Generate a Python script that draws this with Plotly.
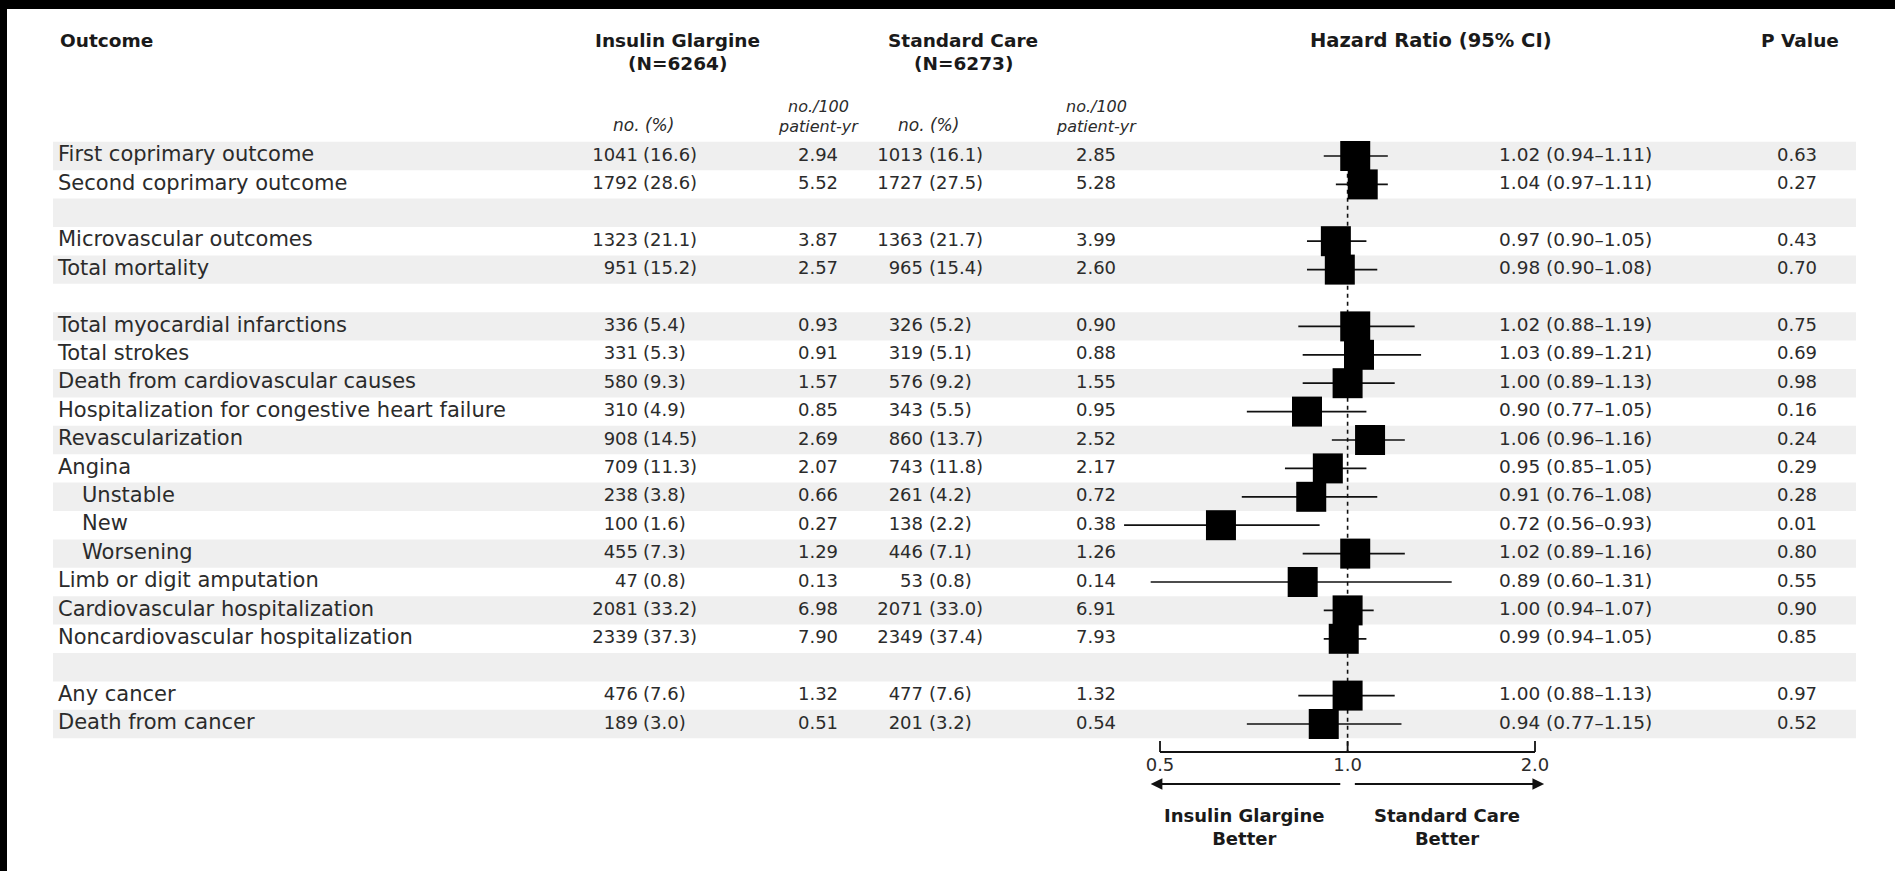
import math
import plotly.graph_objects as go

# ---------------- data ----------------
outcomes = ["First coprimary outcome", "Second coprimary outcome", "",
            "Microvascular outcomes", "Total mortality", "",
            "Total myocardial infarctions", "Total strokes",
            "Death from cardiovascular causes",
            "Hospitalization for congestive heart failure",
            "Revascularization", "Angina", "Unstable", "New", "Worsening",
            "Limb or digit amputation", "Cardiovascular hospitalization",
            "Noncardiovascular hospitalization", "",
            "Any cancer", "Death from cancer"]
indented = [False]*12 + [True, True, True] + [False]*6

ig_n = [1041, 1792, None, 1323, 951, None, 336, 331, 580, 310, 908, 709, 238, 100, 455, 47, 2081, 2339, None, 476, 189]
ig_pct = [16.6, 28.6, None, 21.1, 15.2, None, 5.4, 5.3, 9.3, 4.9, 14.5, 11.3, 3.8, 1.6, 7.3, 0.8, 33.2, 37.3, None, 7.6, 3.0]
ig_rate = [2.94, 5.52, None, 3.87, 2.57, None, 0.93, 0.91, 1.57, 0.85, 2.69, 2.07, 0.66, 0.27, 1.29, 0.13, 6.98, 7.90, None, 1.32, 0.51]
sc_n = [1013, 1727, None, 1363, 965, None, 326, 319, 576, 343, 860, 743, 261, 138, 446, 53, 2071, 2349, None, 477, 201]
sc_pct = [16.1, 27.5, None, 21.7, 15.4, None, 5.2, 5.1, 9.2, 5.5, 13.7, 11.8, 4.2, 2.2, 7.1, 0.8, 33.0, 37.4, None, 7.6, 3.2]
sc_rate = [2.85, 5.28, None, 3.99, 2.60, None, 0.90, 0.88, 1.55, 0.95, 2.52, 2.17, 0.72, 0.38, 1.26, 0.14, 6.91, 7.93, None, 1.32, 0.54]
hr = [1.02, 1.04, None, 0.97, 0.98, None, 1.02, 1.03, 1.00, 0.90, 1.06, 0.95, 0.91, 0.72, 1.02, 0.89, 1.00, 0.99, None, 1.00, 0.94]
hr_lo = [0.94, 0.97, None, 0.90, 0.90, None, 0.88, 0.89, 0.89, 0.77, 0.96, 0.85, 0.76, 0.56, 0.89, 0.60, 0.94, 0.94, None, 0.88, 0.77]
hr_hi = [1.11, 1.11, None, 1.05, 1.08, None, 1.19, 1.21, 1.13, 1.05, 1.16, 1.05, 1.08, 0.93, 1.16, 1.31, 1.07, 1.05, None, 1.13, 1.15]
p_values = [0.63, 0.27, None, 0.43, 0.70, None, 0.75, 0.69, 0.98, 0.16, 0.24, 0.29, 0.28, 0.01, 0.80, 0.55, 0.90, 0.85, None, 0.97, 0.52]

# axis tick positions as drawn in the figure and their labels
tick_vals = [0.6147, 1.0, 1.626]
tick_text = ["0.5", "1.0", "2.0"]

# ---------------- layout constants ----------------
W, H = 1895, 871
ROW0, PITCH = 156.0, 28.4
def row_of(py):
    return (py - ROW0) / PITCH

FONT = "DejaVu Sans"
TXT = "#2b2b2b"
FS = 18
FS_LABEL = 21
SHADE = "#efefef"

n = len(outcomes)
rows = list(range(n))

X_LABEL, X_INDENT = 58, 82
X_IG_N, X_IG_P, X_IG_R = 638, 643, 818
X_SC_N, X_SC_P, X_SC_R = 923, 929, 1096
X_HR, X_P = 1499, 1797
X_SHADE0, X_SHADE1 = 53, 1856

# forest log axis: 1.0 at px 1347.6, 385.5 px per ln unit
PX_ONE, PX_PER_LN = 1347.6, 385.5
PX_PER_L10 = PX_PER_LN * math.log(10)
x2_range = [(0 - PX_ONE) / PX_PER_L10, (W - PX_ONE) / PX_PER_L10]

fig = go.Figure()

# white page on black frame, then alternating row shading
fig.add_shape(type="rect", xref="x", yref="y", x0=7, x1=W + 5, y0=row_of(9), y1=row_of(H + 5),
              fillcolor="white", line_width=0, layer="below")
for i in rows:
    if i % 2 == 0:
        fig.add_shape(type="rect", xref="x", yref="y", x0=X_SHADE0, x1=X_SHADE1,
                      y0=i - 0.5, y1=i + 0.5, fillcolor=SHADE, line_width=0, layer="below")

def text_trace(xs, ys, texts, pos, size=FS, color=TXT, family=FONT, xaxis="x"):
    fig.add_trace(go.Scatter(x=xs, y=ys, text=texts, mode="text", textposition=pos,
                             textfont=dict(family=family, size=size, color=color),
                             hoverinfo="skip", showlegend=False, xaxis=xaxis, yaxis="y"))

# outcome labels
lab_x = [X_INDENT if ind else X_LABEL for ind in indented]
text_trace(lab_x, rows, outcomes, "middle right", size=FS_LABEL)

def fmt_n(v):
    return "" if v is None else f"{v}"
def fmt_pct(v):
    return "" if v is None else f"({v:.1f})"
def fmt_r(v):
    return "" if v is None else f"{v:.2f}"

text_trace([X_IG_N]*n, rows, [fmt_n(v) for v in ig_n], "middle left")
text_trace([X_IG_P]*n, rows, [fmt_pct(v) for v in ig_pct], "middle right")
text_trace([X_IG_R]*n, rows, [fmt_r(v) for v in ig_rate], "middle center")
text_trace([X_SC_N]*n, rows, [fmt_n(v) for v in sc_n], "middle left")
text_trace([X_SC_P]*n, rows, [fmt_pct(v) for v in sc_pct], "middle right")
text_trace([X_SC_R]*n, rows, [fmt_r(v) for v in sc_rate], "middle center")
hr_txt = ["" if h is None else f"{h:.2f} ({l:.2f}\u2013{u:.2f})" for h, l, u in zip(hr, hr_lo, hr_hi)]
text_trace([X_HR]*n, rows, hr_txt, "middle right", size=18.5)
text_trace([X_P]*n, rows, [fmt_r(v) for v in p_values], "middle center")

# headers
def header(x, py, txt, anchor="center", size=18.5, italic=False, bold=True):
    t = f"<b>{txt}</b>" if bold else txt
    if italic:
        t = f"<i>{t}</i>"
    fig.add_annotation(x=x, y=row_of(py), xref="x", yref="y", text=t, showarrow=False,
                       xanchor=anchor, yanchor="middle",
                       font=dict(family=FONT, size=size, color="#1a1a1a" if bold else TXT))

header(X_LABEL, 40, "Outcome", anchor="left")
header(677, 40, "Insulin Glargine")
header(677, 63, "(N=6264)")
header(963, 40, "Standard Care")
header(963, 63, "(N=6273)")
header(1431, 40, "Hazard Ratio (95% CI)", size=19.5)
header(1800, 40, "P Value")
for xc_n, xc_r in [(643, X_IG_R), (928, X_SC_R)]:
    header(xc_n, 125, "no. (%)", size=17, italic=True, bold=False)
    header(xc_r, 106, "no./100", size=16, italic=True, bold=False)
    header(xc_r, 126, "patient-yr", size=16, italic=True, bold=False)

# ---------------- forest plot ----------------
AXIS_ROW = row_of(752)
fig.add_trace(go.Scatter(x=[1, 1], y=[-0.5, AXIS_ROW], mode="lines", xaxis="x2", yaxis="y",
                         line=dict(color="#111", width=1.6, dash="4px,4px"),
                         hoverinfo="skip", showlegend=False))
ci_x, ci_y = [], []
for i, (l, u) in enumerate(zip(hr_lo, hr_hi)):
    if l is None:
        continue
    ci_x += [l, u, None]
    ci_y += [i, i, None]
fig.add_trace(go.Scatter(x=ci_x, y=ci_y, mode="lines", xaxis="x2", yaxis="y",
                         line=dict(color="#111", width=1.7), hoverinfo="skip", showlegend=False))
fig.add_trace(go.Scatter(x=hr, y=rows, mode="markers", xaxis="x2", yaxis="y",
                         marker=dict(symbol="square", size=30, color="#000", line_width=0),
                         hoverinfo="skip", showlegend=False))

# axis line, ticks and labels
fig.add_trace(go.Scatter(x=[tick_vals[0], tick_vals[-1]], y=[AXIS_ROW, AXIS_ROW], mode="lines",
                         xaxis="x2", yaxis="y", line=dict(color="#111", width=1.8),
                         hoverinfo="skip", showlegend=False))
tk_x, tk_y = [], []
for tv in tick_vals:
    tk_x += [tv, tv, None]
    tk_y += [AXIS_ROW, row_of(741), None]
fig.add_trace(go.Scatter(x=tk_x, y=tk_y, mode="lines", xaxis="x2", yaxis="y",
                         line=dict(color="#111", width=1.8), hoverinfo="skip", showlegend=False))
fig.add_trace(go.Scatter(x=tick_vals, y=[row_of(766)]*3, text=tick_text, mode="text",
                         textposition="middle center", xaxis="x2", yaxis="y",
                         textfont=dict(family=FONT, size=18, color=TXT),
                         hoverinfo="skip", showlegend=False))

ARROW_ROW = row_of(784)
for head, tail in [(0.600, 0.985), (1.665, 1.015)]:
    fig.add_annotation(x=math.log10(head), y=ARROW_ROW, ax=math.log10(tail), ay=ARROW_ROW,
                       xref="x2", yref="y", axref="x2", ayref="y", text="", showarrow=True,
                       arrowhead=2, arrowsize=1.3, arrowwidth=1.8, arrowcolor="#111")

for v, t in [(0.766, "Insulin Glargine<br>Better"), (1.294, "Standard Care<br>Better")]:
    fig.add_annotation(x=math.log10(v), y=row_of(827), xref="x2", yref="y",
                       text=f"<b>{t}</b>", showarrow=False, xanchor="center", yanchor="middle",
                       font=dict(family=FONT, size=18, color="#1a1a1a"))

fig.update_layout(
    width=W, height=H, margin=dict(l=0, r=0, t=0, b=0),
    paper_bgcolor="black", plot_bgcolor="rgba(0,0,0,0)",
    xaxis=dict(range=[0, W], visible=False, fixedrange=True),
    xaxis2=dict(type="log", range=x2_range, overlaying="x", visible=False, fixedrange=True),
    yaxis=dict(range=[row_of(H), row_of(0)], visible=False, fixedrange=True),
    showlegend=False,
)

fig.write_html("out.html")
